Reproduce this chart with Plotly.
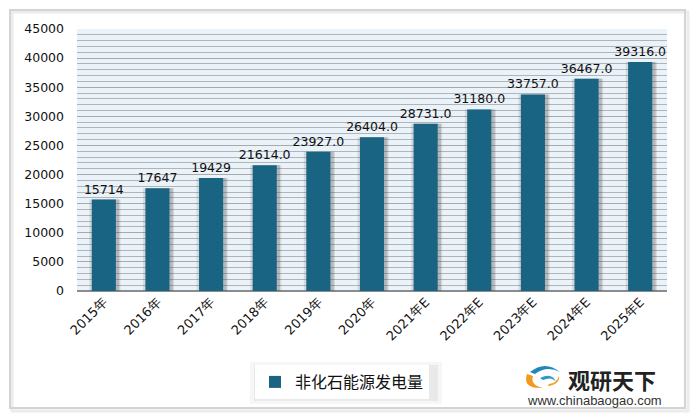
import plotly.graph_objects as go

categories = ["2015年", "2016年", "2017年", "2018年", "2019年", "2020年",
              "2021年E", "2022年E", "2023年E", "2024年E", "2025年E"]
values = [15714, 17647, 19429, 21614.0, 23927.0, 26404.0,
          28731.0, 31180.0, 33757.0, 36467.0, 39316.0]
label_texts = ["15714", "17647", "19429", "21614.0", "23927.0", "26404.0",
               "28731.0", "31180.0", "33757.0", "36467.0", "39316.0"]
series_name = "非化石能源发电量"

BAR = "#1a6483"
FONT = "DejaVu Sans"

L, R, T, B = 77, 667, 29, 291


def px(x):
    return (x - L) / (R - L)


def py(y):
    return (B - y) / (B - T)


fig = go.Figure()

# soft shadow behind bars
fig.add_trace(go.Bar(x=categories, y=values, width=0.58, offset=-0.27,
                     marker=dict(color="rgba(90,90,90,0.16)", line=dict(width=0)),
                     showlegend=False, hoverinfo="skip"))
fig.add_trace(go.Bar(x=categories, y=values, width=0.5, offset=-0.215,
                     marker=dict(color="rgba(70,70,70,0.22)", line=dict(width=0)),
                     showlegend=False, hoverinfo="skip"))
fig.add_trace(go.Bar(x=categories, y=values, width=0.45, name=series_name,
                     marker=dict(color=BAR, line=dict(width=0)),
                     text=label_texts, textposition="outside",
                     constraintext="none",
                     textfont=dict(family=FONT, size=12.5, color="#111"),
                     cliponaxis=False))

fig.update_layout(
    width=698, height=416,
    margin=dict(l=L, r=698 - R, t=T, b=416 - B),
    paper_bgcolor="white",
    plot_bgcolor="#eaf2fa",
    barmode="overlay",
    font=dict(family=FONT, size=12.5, color="#111"),
    showlegend=True,
    legend=dict(x=px(255), y=py(382), xanchor="left", yanchor="middle",
                orientation="h", bgcolor="white",
                font=dict(family="Noto Sans CJK SC", size=16, color="#111"),
                itemwidth=30),
    xaxis=dict(tickangle=-45, showline=False, ticks="",
               tickfont=dict(family=FONT, size=13, color="#111")),
    yaxis=dict(range=[0, 45000], dtick=5000, tickformat="d", showgrid=True,
               gridcolor="#a9a9a9", gridwidth=1,
               minor=dict(dtick=1000, showgrid=True, gridcolor="#b4b4b4", gridwidth=1),
               zeroline=True, zerolinecolor="#8c8c8c", zerolinewidth=2,
               ticks="", tickfont=dict(family=FONT, size=12.5, color="#111"),
               ticklabelstandoff=12),
)

# outer frame with shadow
fig.add_shape(type="rect", xref="paper", yref="paper",
              x0=px(12), x1=px(688), y0=py(411), y1=py(12),
              line=dict(color="#ececec", width=3), layer="below")
fig.add_shape(type="rect", xref="paper", yref="paper",
              x0=px(10), x1=px(685), y0=py(408), y1=py(10),
              line=dict(color="#d4d4d4", width=2), layer="below")

# legend shadow
fig.add_shape(type="rect", xref="paper", yref="paper",
              x0=px(250), x1=px(442), y0=py(404), y1=py(362),
              fillcolor="rgba(0,0,0,0.035)", line=dict(width=0), layer="below")
fig.add_shape(type="rect", xref="paper", yref="paper",
              x0=px(254), x1=px(438), y0=py(401), y1=py(365),
              fillcolor="rgba(0,0,0,0.05)", line=dict(width=0), layer="below")


def path(pts):
    s = "M %f,%f " % (px(pts[0][0]), py(pts[0][1]))
    i = 1
    while i < len(pts):
        (cx, cy), (ex, ey) = pts[i], pts[i + 1]
        s += "Q %f,%f %f,%f " % (px(cx), py(cy), px(ex), py(ey))
        i += 2
    return s + "Z"

# logo icon (approximation)
fig.add_shape(type="path", xref="paper", yref="paper",
              path=path([(527, 374), (522, 389), (543, 388), (530, 385), (533, 376),
                         (530, 375), (527, 374)]),
              fillcolor="#f29a1f", line=dict(width=0))
fig.add_shape(type="path", xref="paper", yref="paper",
              path=path([(530, 372), (545, 360), (560, 372), (547, 365), (535, 374),
                         (532, 373), (530, 372)]),
              fillcolor="#1f88b8", line=dict(width=0))
fig.add_shape(type="path", xref="paper", yref="paper",
              path=path([(540, 378), (552, 372), (556, 382), (552, 376), (543, 380),
                         (541, 379), (540, 378)]),
              fillcolor="#2a9ac7", line=dict(width=0))
fig.add_shape(type="path", xref="paper", yref="paper",
              path=path([(548, 386), (560, 384), (559, 376), (557, 383), (549, 384),
                         (548, 385), (548, 386)]),
              fillcolor="#f29a1f", line=dict(width=0))

fig.add_annotation(xref="paper", yref="paper", x=px(566), y=py(379),
                   text="<b>观研天下</b>", showarrow=False,
                   xanchor="left", yanchor="middle",
                   font=dict(family="Noto Sans CJK SC", size=22, color="#222"))
fig.add_annotation(xref="paper", yref="paper", x=px(594), y=py(400),
                   text="www.chinabaogao.com", showarrow=False,
                   xanchor="center", yanchor="middle",
                   font=dict(family="Liberation Sans", size=13, color="#333"))

fig.write_html("out.html")
